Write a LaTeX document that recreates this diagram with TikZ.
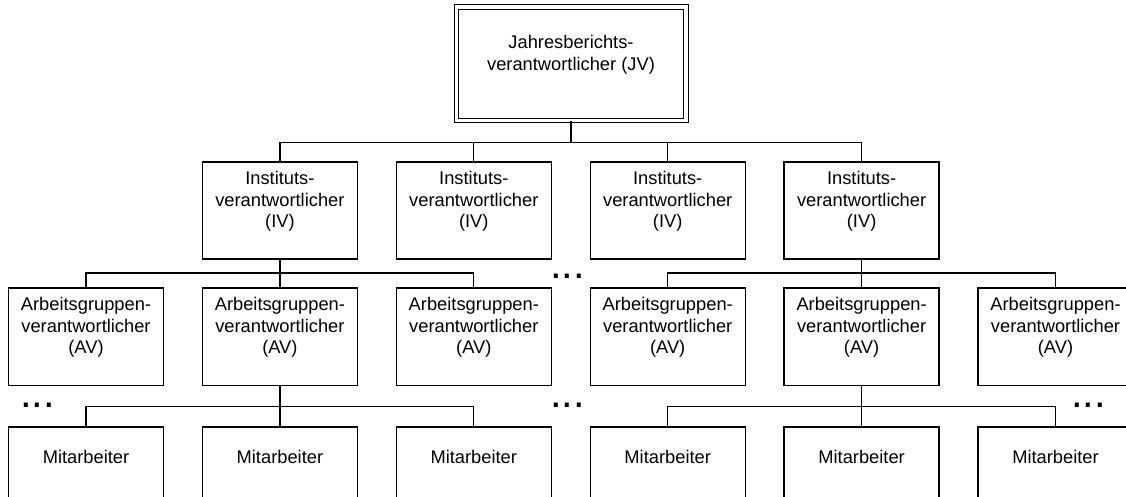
\documentclass[tikz,border=0pt]{standalone}
\usepackage{fontspec}
\setmainfont{Liberation Sans}
\begin{document}
\begin{tikzpicture}[x=1pt,y=-1pt,
  box/.style={draw,line width=1.3pt,minimum width=155pt,inner sep=0pt},
  ivbox/.style={box,minimum height=97pt},
  avbox/.style={box,minimum height=97.5pt},
  mabox/.style={box,minimum height=80pt},
  topbox/.style={draw,line width=1pt,double=white,double distance=3.5pt,
    minimum width=229.5pt,minimum height=113.5pt,inner sep=0pt},
  label/.style={font=\fontsize{18.3}{21.5}\selectfont,align=center,inner sep=0pt},
  link/.style={line width=1.3pt},
  dots/.style={font=\fontsize{41.7}{45}\selectfont,anchor=base,inner sep=0pt}
]
\clip (0,0) rectangle (1126,497);

% head of the report
\node[topbox] (jv) at (571,64) {};
\node[label] (jvt) at ([yshift=9pt]jv.center) {Jahresberichts-\\verantwortlicher (JV)};

% institute level
\foreach \i/\x in {1/279.9,2/473.8,3/667.7,4/861.6}{
  \node[ivbox] (iv\i) at (\x,210.5) {};
  \node[label] (iv\i t) at ([yshift=9pt]iv\i.center) {Instituts-\\verantwortlicher\\(IV)};
}

% working group level
\foreach \i/\x in {1/86,2/279.9,3/473.8,4/667.7,5/861.6,6/1055.5}{
  \node[avbox] (av\i) at (\x,336.6) {};
  \node[label] (av\i t) at ([yshift=9pt]av\i.center) {Arbeitsgruppen-\\verantwortlicher\\(AV)};
}

% staff level
\foreach \i/\x in {1/86,2/279.9,3/473.8,4/667.7,5/861.6,6/1055.5}{
  \node[mabox] (ma\i) at (\x,467) {};
  \node[label] (ma\i t) at ([yshift=10pt]ma\i.center) {Mitarbeiter};
}

% bus lines
\coordinate (bus0) at (571,142.5);
\coordinate (bus1) at (280,273);
\coordinate (bus2) at (280,406.5);

\foreach \i in {1,...,4}
  \draw[link] (jv.south) |- (iv\i.north |- bus0) -- (iv\i.north);
\foreach \i in {1,2,3}
  \draw[link] (iv1.south) |- (av\i.north |- bus1) -- (av\i.north);
\foreach \i in {4,5,6}
  \draw[link] (iv4.south) |- (av\i.north |- bus1) -- (av\i.north);
\foreach \i in {1,2,3}
  \draw[link] (av2.south) |- (ma\i.north |- bus2) -- (ma\i.north);
\foreach \i in {4,5,6}
  \draw[link] (av5.south) |- (ma\i.north |- bus2) -- (ma\i.north);

% ellipses for omitted branches
\node[dots] (d1) at (567.5,278.7) {...};
\node[dots] (d2) at (567.5,407.7) {...};
\node[dots] (d3) at (37.4,407.2) {...};
\node[dots] (d4) at (1088.4,407.7) {...};
\end{tikzpicture}
\end{document}
